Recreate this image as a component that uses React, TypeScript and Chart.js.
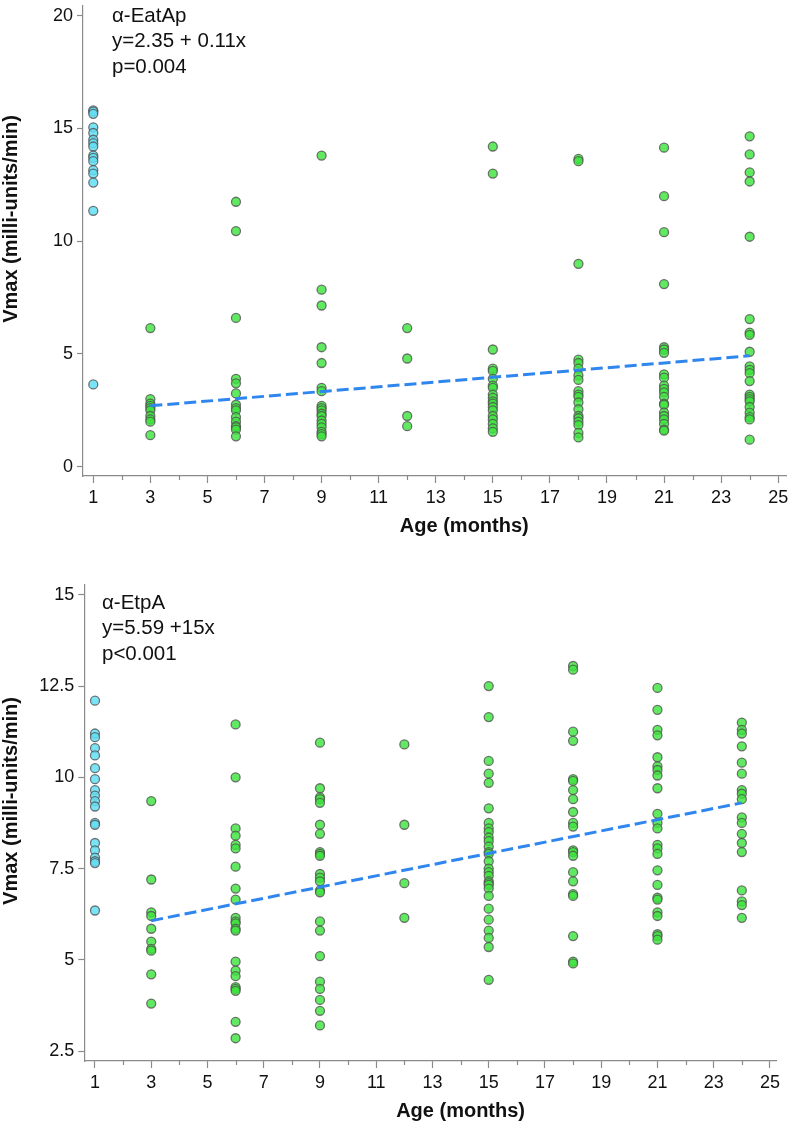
import React, { useEffect, useRef } from "react";
import { Chart, registerables } from "chart.js";

Chart.register(...registerables);

// ---------- data ----------
const greenAges = [3, 6, 9, 12, 15, 18, 21, 24];
const baselineAge = 1;
const xTickLabels = [1, 3, 5, 7, 9, 11, 13, 15, 17, 19, 21, 23, 25];
const xMinorTicks = [2, 4, 6, 8, 10, 12, 14, 16, 18, 20, 22, 24];

// Panel A: alpha-EatAp
const eatApYTicks = [0, 5, 10, 15, 20];
const eatApAge1 = [15.8, 15.75, 15.65, 15.05, 14.8, 14.5, 14.35, 14.2, 13.8, 13.7, 13.55, 13.15, 13.0, 12.6, 11.35, 3.65];
const eatApAge3 = [6.15, 3.0, 2.8, 2.7, 2.6, 2.5, 2.25, 2.1, 2.0, 1.4];
const eatApAge6 = [11.75, 10.45, 6.6, 3.9, 3.7, 3.25, 2.75, 2.6, 2.5, 2.2, 2.0, 1.8, 1.75, 1.65, 1.35];
const eatApAge9 = [13.8, 7.85, 7.15, 5.3, 4.6, 3.5, 3.35, 2.7, 2.6, 2.5, 2.35, 2.25, 2.05, 1.9, 1.75, 1.55, 1.45, 1.35];
const eatApAge12 = [6.15, 4.8, 2.25, 1.8];
const eatApAge15 = [14.2, 13.0, 5.2, 4.35, 4.25, 3.9, 3.6, 3.5, 3.2, 3.05, 2.9, 2.8, 2.65, 2.5, 2.25, 2.1, 1.9, 1.7, 1.55];
const eatApAge18 = [13.65, 13.55, 9.0, 4.75, 4.6, 4.35, 4.05, 3.85, 3.35, 3.2, 3.1, 2.85, 2.55, 2.25, 2.15, 2.0, 1.85, 1.5, 1.3];
const eatApAge21 = [14.15, 12.0, 10.4, 8.1, 5.3, 5.2, 5.05, 4.1, 3.95, 3.6, 3.45, 3.3, 3.1, 2.8, 2.75, 2.4, 2.25, 2.1, 1.9, 1.65, 1.6];
const eatApAge24 = [14.65, 13.85, 13.05, 12.65, 10.2, 6.55, 5.95, 5.85, 5.1, 4.45, 4.3, 4.15, 3.8, 3.2, 3.1, 3.0, 2.9, 2.65, 2.4, 2.2, 2.1, 1.2];
const eatApFitX = [3, 24];
const eatApFitY = [2.7, 4.92];
const eatApNote = ["\u03b1-EatAp", "y=2.35 + 0.11x", "p=0.004"];

// Panel B: alpha-EtpA
const etpAYTicks = [2.5, 5, 7.5, 10, 12.5, 15];
const etpAAge1 = [12.1, 11.2, 11.1, 10.8, 10.6, 10.25, 9.95, 9.65, 9.5, 9.35, 9.2, 8.75, 8.7, 8.2, 8.0, 7.8, 7.7, 7.65, 6.35];
const etpAAge3 = [9.35, 7.2, 6.3, 6.2, 5.85, 5.5, 5.3, 5.25, 4.6, 3.8];
const etpAAge6 = [11.45, 10.0, 8.6, 8.4, 8.15, 8.05, 7.55, 6.95, 6.65, 6.15, 6.05, 6.0, 5.85, 5.8, 4.95, 4.7, 4.55, 4.25, 4.2, 4.15, 3.3, 2.85];
const etpAAge9 = [10.95, 9.7, 9.45, 9.4, 9.3, 8.7, 8.45, 7.95, 7.9, 7.85, 7.35, 7.25, 7.15, 6.9, 6.85, 6.05, 5.8, 5.1, 4.4, 4.2, 3.9, 3.6, 3.2];
const etpAAge12 = [10.9, 8.7, 7.1, 6.15];
const etpAAge15 = [12.5, 11.65, 10.45, 10.1, 9.85, 9.15, 8.75, 8.6, 8.5, 8.35, 8.25, 8.1, 7.95, 7.9, 7.7, 7.5, 7.4, 7.3, 7.15, 7.1, 7.05, 6.95, 6.75, 6.4, 6.1, 5.8, 5.6, 5.35, 4.45];
const etpAAge18 = [13.05, 12.95, 11.25, 11.0, 9.95, 9.9, 9.65, 9.4, 9.05, 8.75, 8.65, 8.0, 7.95, 7.85, 7.4, 7.15, 6.8, 6.75, 5.65, 4.95, 4.9];
const etpAAge21 = [12.45, 11.85, 11.3, 11.15, 10.55, 10.3, 10.2, 10.05, 9.7, 9.0, 8.75, 8.6, 8.15, 8.05, 7.9, 7.45, 7.05, 6.7, 6.65, 6.3, 6.2, 5.7, 5.65, 5.55];
const etpAAge24 = [11.5, 11.3, 11.2, 10.85, 10.4, 10.1, 9.65, 9.55, 9.4, 8.9, 8.75, 8.45, 8.2, 7.95, 6.9, 6.6, 6.5, 6.15];
const etpAFitX = [3, 24];
const etpAFitY = [6.07, 9.3];
const etpANote = ["\u03b1-EtpA", "y=5.59 +15x", "p<0.001"];

const xTitle = "Age (months)";
const yTitle = "Vmax (milli-units/min)";

// ---------- styles ----------
const FONT = '"Liberation Sans", Arial, Helvetica, sans-serif';
const AXIS_COLOR = "#8a8a8a";
const TEXT_COLOR = "#111111";
const GREEN_FILL = "rgba(62, 228, 62, 0.82)";
const CYAN_FILL = "rgba(100, 222, 244, 0.85)";
const POINT_BORDER = "rgba(80, 80, 80, 0.78)";
const FIT_COLOR = "#2f86ef";

type Panel = {
  baseline: number[];
  groups: number[][];
  fitX: number[];
  fitY: number[];
  yTicks: number[];
  yMin: number;
  yMax: number;
  xMin: number;
  xMax: number;
  note: string[];
  noteX: number;
  noteY: number;
  padTop: number;
  padRight: number;
  yAxisWidth: number;
  xAxisHeight: number;
  height: number;
};

const decorPlugin = {
  id: "decor",
  afterDraw(chart: any, _args: any, opts: any) {
    const ctx = chart.ctx as CanvasRenderingContext2D;
    const xs = chart.scales.x;
    const ys = chart.scales.y;
    ctx.save();
    // minor x ticks
    ctx.strokeStyle = AXIS_COLOR;
    ctx.lineWidth = 1.2;
    for (const v of xMinorTicks) {
      const px = Math.round(xs.getPixelForValue(v)) + 0.5;
      ctx.beginPath();
      ctx.moveTo(px, xs.top);
      ctx.lineTo(px, xs.top + 4);
      ctx.stroke();
    }
    ctx.fillStyle = TEXT_COLOR;
    // x title
    ctx.font = `bold 20px ${FONT}`;
    ctx.textAlign = "center";
    ctx.textBaseline = "middle";
    ctx.fillText(xTitle, xs.getPixelForValue(14), xs.top + 50);
    // y title
    ctx.save();
    ctx.translate(11, (ys.top + ys.bottom) / 2 - 22);
    ctx.rotate(-Math.PI / 2);
    ctx.fillText(yTitle, 0, 0);
    ctx.restore();
    // note
    ctx.font = `20.5px ${FONT}`;
    ctx.textAlign = "left";
    (opts.note as string[]).forEach((line, i) => {
      ctx.fillText(line, opts.noteX, opts.noteY + i * 25.5);
    });
    ctx.restore();
  },
};

function buildConfig(p: Panel): any {
  const greenPoints: { x: number; y: number }[] = [];
  p.groups.forEach((vals, i) => {
    vals.forEach((v) => greenPoints.push({ x: greenAges[i], y: v }));
  });
  const cyanPoints = p.baseline.map((v) => ({ x: baselineAge, y: v }));
  const fitPoints = p.fitX.map((x, i) => ({ x, y: p.fitY[i] }));
  return {
    type: "scatter",
    data: {
      datasets: [
        {
          data: fitPoints,
          showLine: true,
          borderColor: FIT_COLOR,
          borderWidth: 3,
          borderDash: [12, 5],
          pointRadius: 0,
          order: 0,
        },
        {
          data: greenPoints,
          backgroundColor: GREEN_FILL,
          borderColor: POINT_BORDER,
          borderWidth: 1.3,
          pointRadius: 4.5,
          order: 1,
        },
        {
          data: cyanPoints,
          backgroundColor: CYAN_FILL,
          borderColor: POINT_BORDER,
          borderWidth: 1.3,
          pointRadius: 4.5,
          order: 2,
        },
      ],
    },
    options: {
      animation: false,
      responsive: false,
      devicePixelRatio: 1,
      layout: { padding: { top: p.padTop, right: p.padRight, left: 0, bottom: 0 } },
      plugins: {
        legend: { display: false },
        tooltip: { enabled: false },
        decor: { note: p.note, noteX: p.noteX, noteY: p.noteY },
      },
      scales: {
        x: {
          type: "linear",
          min: p.xMin,
          max: p.xMax,
          afterBuildTicks: (scale: any) => {
            scale.ticks = xTickLabels.map((v) => ({ value: v }));
          },
          afterFit: (scale: any) => {
            scale.height = p.xAxisHeight;
            scale.paddingLeft = 0;
            scale.paddingRight = 0;
            scale.paddingTop = 0;
            scale.paddingBottom = 0;
          },
          border: { display: true, color: AXIS_COLOR, width: 1.2 },
          grid: { drawOnChartArea: false, drawTicks: true, tickLength: 7, color: AXIS_COLOR, tickWidth: 1.2 },
          ticks: {
            autoSkip: false,
            maxRotation: 0,
            padding: 4,
            color: TEXT_COLOR,
            font: { family: FONT, size: 18 },
            callback: (v: any) => String(v),
          },
        },
        y: {
          type: "linear",
          min: p.yMin,
          max: p.yMax,
          afterBuildTicks: (scale: any) => {
            scale.ticks = p.yTicks.map((v) => ({ value: v }));
          },
          afterFit: (scale: any) => {
            scale.width = p.yAxisWidth;
            scale.paddingLeft = 0;
            scale.paddingRight = 0;
            scale.paddingTop = 0;
            scale.paddingBottom = 0;
          },
          border: { display: true, color: AXIS_COLOR, width: 1.2 },
          grid: { drawOnChartArea: false, drawTicks: true, tickLength: 6, color: AXIS_COLOR, tickWidth: 1.2 },
          ticks: {
            padding: 4,
            color: TEXT_COLOR,
            font: { family: FONT, size: 18, lineHeight: 1 },
            callback: (v: any) => String(v),
          },
        },
      },
    },
    plugins: [decorPlugin],
  };
}

const panelA: Panel = {
  baseline: eatApAge1,
  groups: [eatApAge3, eatApAge6, eatApAge9, eatApAge12, eatApAge15, eatApAge18, eatApAge21, eatApAge24],
  fitX: eatApFitX,
  fitY: eatApFitY,
  yTicks: eatApYTicks,
  yMin: -0.41,
  yMax: 20.44,
  xMin: 0.64,
  xMax: 25.28,
  note: eatApNote,
  noteX: 112,
  noteY: 16,
  padTop: 0,
  padRight: 4,
  yAxisWidth: 83,
  xAxisHeight: 69,
  height: 545,
};

const panelB: Panel = {
  baseline: etpAAge1,
  groups: [etpAAge3, etpAAge6, etpAAge9, etpAAge12, etpAAge15, etpAAge18, etpAAge21, etpAAge24],
  fitX: etpAFitX,
  fitY: etpAFitY,
  yTicks: etpAYTicks,
  yMin: 2.226,
  yMax: 15.27,
  xMin: 0.62,
  xMax: 25.24,
  note: etpANote,
  noteX: 102,
  noteY: 58,
  padTop: 40,
  padRight: 15.3,
  yAxisWidth: 84.3,
  xAxisHeight: 62,
  height: 578,
};

function ScatterPanel({ panel, top }: { panel: Panel; top: number }) {
  const ref = useRef<HTMLCanvasElement | null>(null);
  useEffect(() => {
    if (!ref.current) return;
    const chart = new Chart(ref.current, buildConfig(panel));
    return () => chart.destroy();
  }, [panel]);
  return (
    <canvas
      ref={ref}
      width={792}
      height={panel.height}
      style={{ position: "absolute", left: 0, top, width: 792, height: panel.height, display: "block" }}
    />
  );
}

export default function App() {
  return (
    <div style={{ position: "absolute", left: 0, top: 0, width: 792, height: 1123, background: "#ffffff", overflow: "hidden" }}>
      <ScatterPanel panel={panelA} top={0} />
      <ScatterPanel panel={panelB} top={545} />
    </div>
  );
}
